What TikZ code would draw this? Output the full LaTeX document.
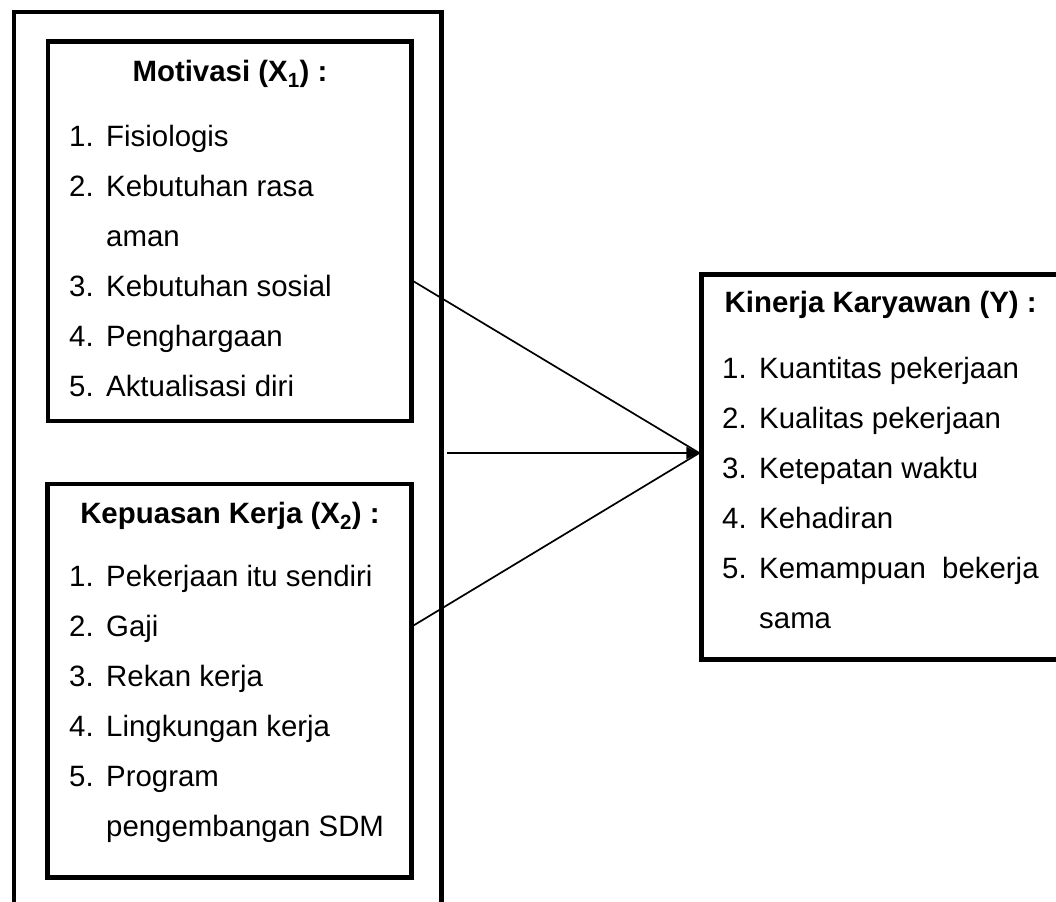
\documentclass[tikz,border=0pt]{standalone}
\usepackage{fontspec}
\setmainfont{Liberation Sans}
\usetikzlibrary{arrows.meta}
\newcommand\numitem[2]{\makebox[37pt][l]{#1}#2}
\begin{document}
\begin{tikzpicture}[x=1pt,y=-1pt,
  box/.style={draw, line width=4.5pt, inner sep=0pt},
  item/.style={anchor=base west, inner sep=0pt, font=\fontsize{29.4}{35}\selectfont},
  ttl/.style={anchor=base, inner sep=0pt, font=\fontsize{29.4}{35}\selectfont\bfseries},
  ttlw/.style={anchor=base west, inner sep=0pt, font=\fontsize{29.4}{35}\selectfont\bfseries},
  conn/.style={line width=1.8pt, -{Triangle[length=13pt,width=12pt]}},
  line/.style={line width=1.7pt}]
\useasboundingbox (0,0) rectangle (1056,901);
\begin{scope}
\clip (0,0) rectangle (1056,901);
% outer box
\node[box, minimum width=427.5pt, minimum height=918pt] (outer) at (227.75,471) {};
% Motivasi box
\node[box, minimum width=363.5pt, minimum height=379.5pt] (mot) at (229.75,231.25) {};
\node[ttl] (mott) at (230,81.7) {Motivasi (X\textsubscript{1}) :};
\foreach \t [count=\i] in {\numitem{1.}{Fisiologis},\numitem{2.}{Kebutuhan rasa},\numitem{}{aman},\numitem{3.}{Kebutuhan sosial},\numitem{4.}{Penghargaan},\numitem{5.}{Aktualisasi diri}}
  \node[item] (m\i) at (69,146.7+50*\i-50) {\t};
% Kepuasan box
\node[box, minimum width=364pt, minimum height=393.5pt] (kep) at (229.5,680.75) {};
\node[ttl] (kept) at (230,523.3) {Kepuasan Kerja (X\textsubscript{2}) :};
\foreach \t [count=\i] in {\numitem{1.}{Pekerjaan itu sendiri},\numitem{2.}{Gaji},\numitem{3.}{Rekan kerja},\numitem{4.}{Lingkungan kerja},\numitem{5.}{Program},\numitem{}{pengembangan SDM}}
  \node[item] (k\i) at (69,586.7+50*\i-50) {\t};
% Kinerja box
\node[box, minimum width=378.5pt, minimum height=385pt] (kin) at (890.75,467) {};
\node[ttlw] (kint) at (724.5,312.7) {Kinerja Karyawan (Y) :};
\foreach \t [count=\i] in {\numitem{1.}{Kuantitas pekerjaan},\numitem{2.}{Kualitas pekerjaan},\numitem{3.}{Ketepatan waktu},\numitem{4.}{Kehadiran},\numitem{5.}{Kemampuan\ \ bekerja},\numitem{}{sama}}
  \node[item] (y\i) at (722,378.3+50*\i-50) {\t};
% connectors
\coordinate (tip) at ([yshift=14pt]kin.west);
\coordinate (s1) at (413,281);
\coordinate (s2) at (447,453);
\coordinate (s3) at (411,627);
\draw[line] (s1) -- (tip);
\draw[line] (s3) -- (tip);
\draw[conn] (s2) -- (tip);
\end{scope}
\end{tikzpicture}
\end{document}
